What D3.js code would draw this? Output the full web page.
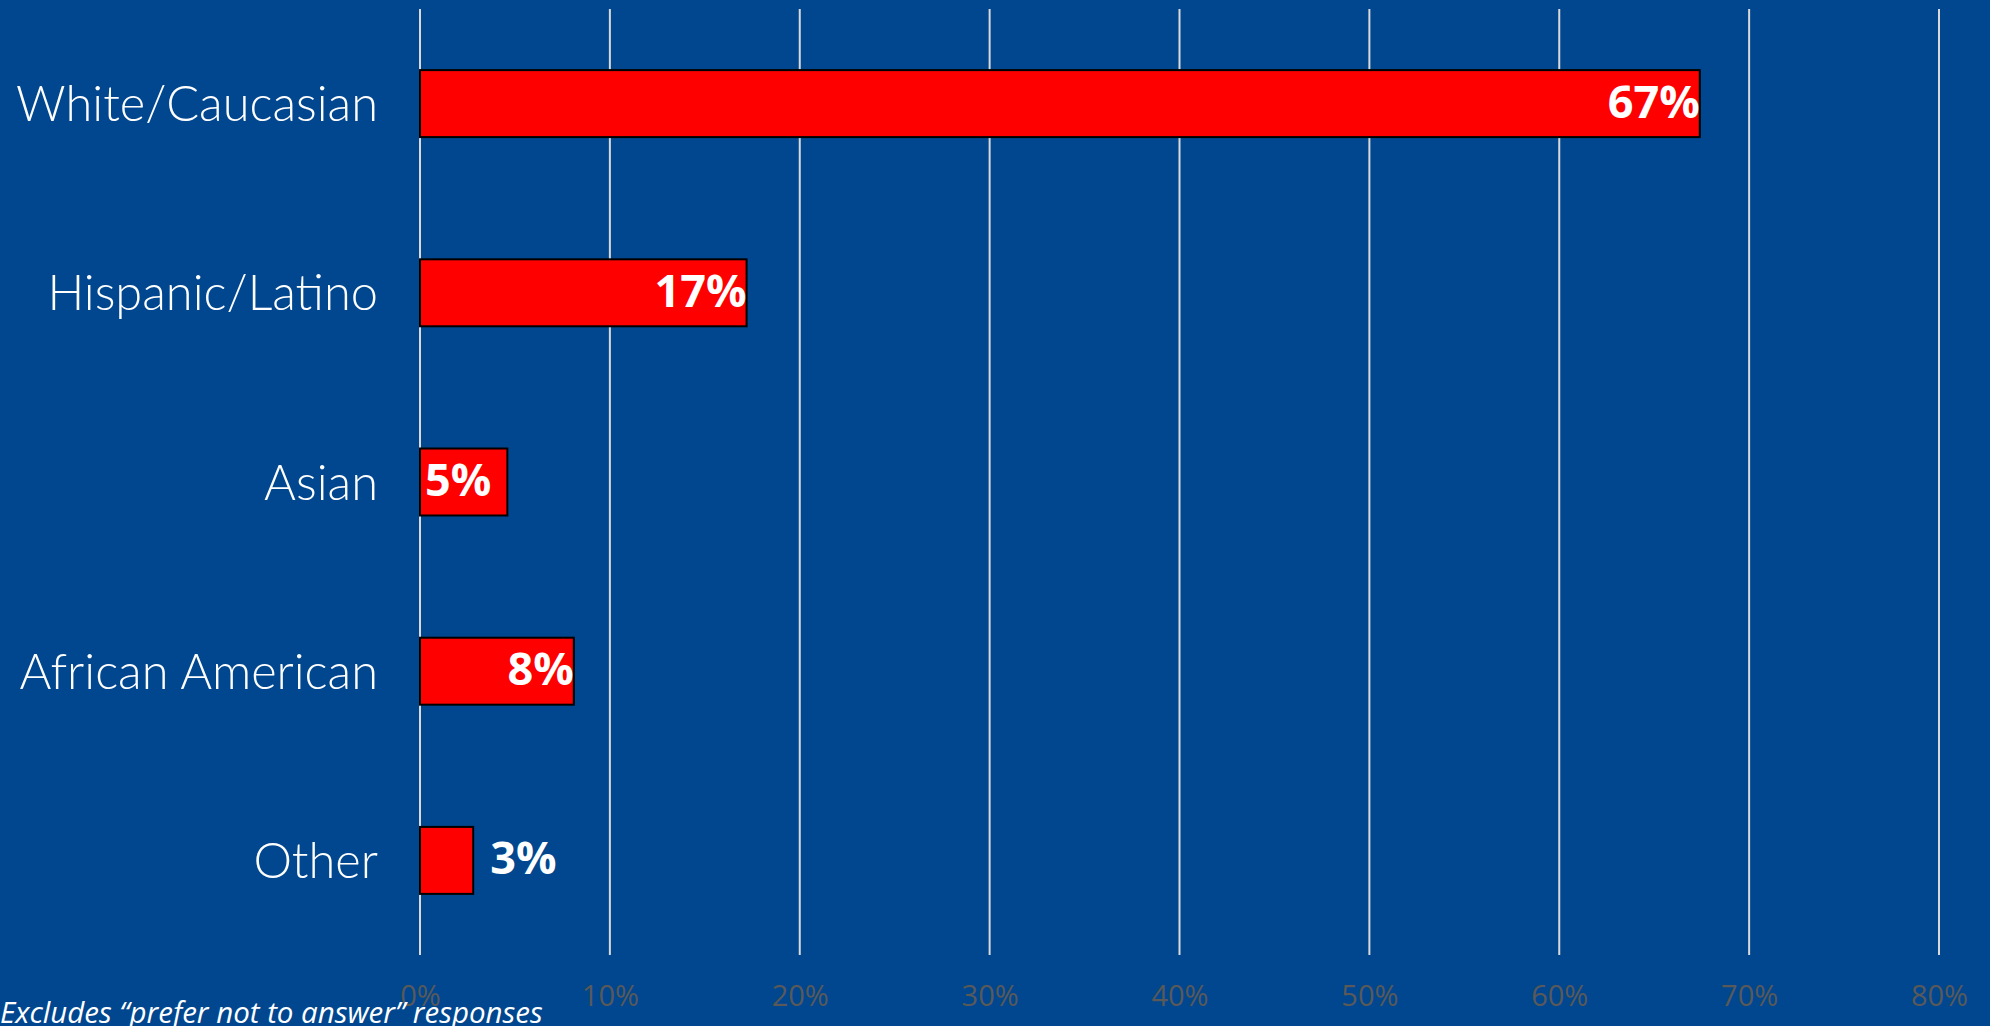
<!DOCTYPE html>
<html>
<head>
<meta charset="utf-8">
<script src="https://cdn.jsdelivr.net/npm/d3@7"></script>
<style>
  html, body { margin: 0; padding: 0; background: #00478F; overflow: hidden; }
  svg { display: block; }
</style>
</head>
<body>
<svg id="chart" width="1990" height="1026"></svg>
<script>
const categories = ["White/Caucasian", "Hispanic/Latino", "Asian", "African American", "Other"];
const values = [67.4, 17.2, 4.6, 8.1, 2.8];
const tickValues = [0, 10, 20, 30, 40, 50, 60, 70, 80];
const tickLabels = ["0%", "10%", "20%", "30%", "40%", "50%", "60%", "70%", "80%"];
const footnote = "Excludes \u201cprefer not to answer\u201d responses";

const W = 1990, H = 1026;
const svg = d3.select("#chart");
svg.append("rect").attr("width", W).attr("height", H).attr("fill", "#00478F");

const x = d3.scaleLinear().domain([0, 80]).range([420, 1939]);
const y = d3.scaleBand().domain(categories).range([9, 955]).paddingInner(0.646).paddingOuter(0.323);

// gridlines
svg.append("g").selectAll("line").data(tickValues).join("line")
  .attr("x1", d => x(d)).attr("x2", d => x(d))
  .attr("y1", 9).attr("y2", 955)
  .attr("stroke", "#D9D9D9").attr("stroke-width", 2);

// x axis labels
const xAxis = d3.axisBottom(x).tickValues(tickValues).tickFormat((d, i) => tickLabels[i]).tickSize(0).tickPadding(0);
const gx = svg.append("g").attr("transform", "translate(0,1006)").call(xAxis);
gx.select(".domain").remove();
gx.selectAll("text").attr("fill", "#595959").attr("font-family", "'Open Sans', sans-serif")
  .attr("font-size", 29).attr("dy", "0");

// bars
svg.append("g").selectAll("rect").data(values).join("rect")
  .attr("x", x(0))
  .attr("y", (d, i) => y(categories[i]))
  .attr("width", d => x(d) - x(0))
  .attr("height", y.bandwidth())
  .attr("fill", "#FF0000").attr("stroke", "#000").attr("stroke-width", 2);

// category labels
const catG = svg.append("g");
const catText = catG.selectAll("text").data(categories).join("text")
  .attr("x", 378)
  .attr("y", d => y(d) + y.bandwidth() / 2)
  .attr("dy", "0.36em")
  .attr("text-anchor", "end")
  .attr("fill", "#FFFFFF")
  .attr("font-family", "Lato, 'Open Sans', sans-serif")
  .attr("font-weight", 300)
  .attr("font-size", 40)
  .text(d => d);
let maxW = 0;
catText.each(function() { maxW = Math.max(maxW, this.getComputedTextLength()); });
const catSize = 40 * 362 / maxW;
catText.attr("font-size", catSize);

// value labels
const valG = svg.append("g");
valG.selectAll("text").data(values).join("text")
  .attr("fill", "#FFFFFF")
  .attr("font-family", "'Open Sans', 'Liberation Sans', sans-serif")
  .attr("font-weight", 700)
  .attr("font-size", 45)
  .attr("y", (d, i) => y(categories[i]) + y.bandwidth() / 2 + 14)
  .text(d => Math.round(d) + "%")
  .each(function(d) {
    const tw = this.getComputedTextLength();
    const bw = x(d) - x(0);
    const t = d3.select(this);
    if (tw > bw) {
      t.attr("x", x(d) + 17).attr("text-anchor", "start");
    } else if (bw < 1.5 * tw) {
      t.attr("x", x(0) + 5).attr("text-anchor", "start");
    } else {
      t.attr("x", x(d)).attr("text-anchor", "end");
    }
  });

// footnote
const fn = svg.append("text")
  .attr("x", 0).attr("y", 1023)
  .attr("fill", "#FFFFFF")
  .attr("font-family", "'Open Sans', sans-serif")
  .attr("font-style", "italic")
  .attr("font-size", 30)
  .text(footnote);
const fw = fn.node().getComputedTextLength();
fn.attr("font-size", 30 * 543 / fw);
</script>
</body>
</html>
